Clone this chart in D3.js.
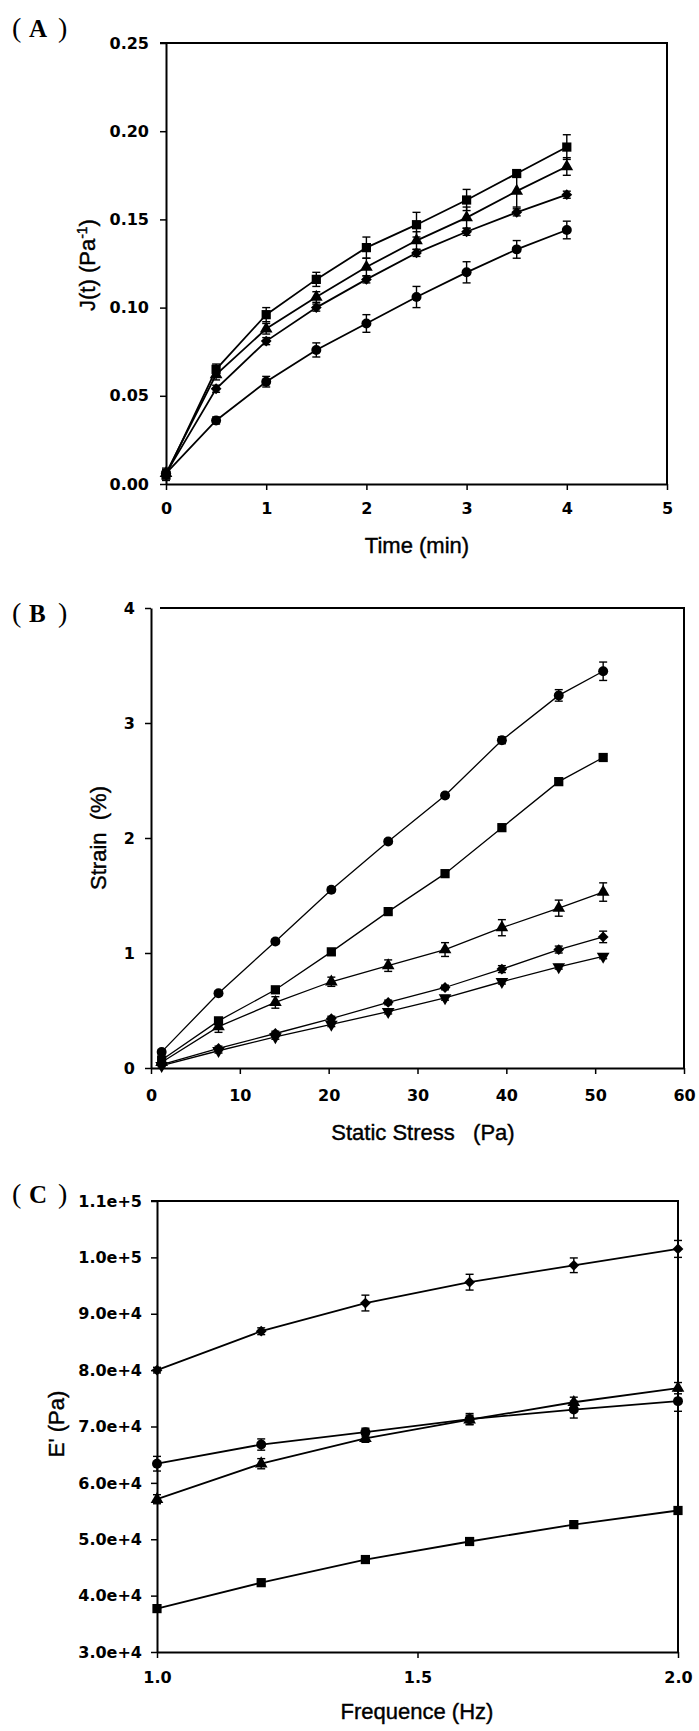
<!DOCTYPE html>
<html><head><meta charset="utf-8">
<script src="https://cdn.jsdelivr.net/npm/d3@7"></script>
<style>body{margin:0;background:#fff}svg{display:block}</style>
</head><body>
<svg id="chart" width="699" height="1731"></svg>
<script>
// ---------- Panel A data ----------
const timeA = [0, 0.5, 1, 1.5, 2, 2.5, 3, 3.5, 4];
const jSquare      = [0.005, 0.065, 0.096, 0.116, 0.134, 0.147, 0.161, 0.176, 0.191];
const jSquareErr   = [0.003, 0.003, 0.004, 0.004, 0.006, 0.007, 0.006, 0.002, 0.007];
const jTriangle    = [0.006, 0.062, 0.088, 0.106, 0.123, 0.138, 0.151, 0.166, 0.180];
const jTriangleErr = [0.003, 0.003, 0.003, 0.003, 0.005, 0.005, 0.006, 0.009, 0.005];
const jDiamond     = [0.006, 0.054, 0.081, 0.100, 0.116, 0.131, 0.143, 0.154, 0.164];
const jDiamondErr  = [0.002, 0.002, 0.002, 0.002, 0.002, 0.002, 0.002, 0.002, 0.002];
const jCircle      = [0.006, 0.036, 0.058, 0.076, 0.091, 0.106, 0.120, 0.133, 0.144];
const jCircleErr   = [0.002, 0.002, 0.003, 0.004, 0.005, 0.006, 0.006, 0.005, 0.005];
const xTicksA = [0, 1, 2, 3, 4, 5];
const yTicksA = [0, 0.05, 0.10, 0.15, 0.20, 0.25];

// ---------- Panel B data ----------
const stressB = [1.2, 7.6, 14.0, 20.3, 26.7, 33.1, 39.5, 45.9, 50.9];
const strainCircle      = [0.14, 0.65, 1.10, 1.55, 1.97, 2.37, 2.85, 3.24, 3.45];
const strainCircleErr   = [0.02, 0.02, 0.02, 0.02, 0.02, 0.02, 0.03, 0.05, 0.08];
const strainSquare      = [0.07, 0.41, 0.68, 1.01, 1.36, 1.69, 2.09, 2.49, 2.70];
const strainSquareErr   = [0.02, 0.02, 0.02, 0.02, 0.02, 0.02, 0.02, 0.03, 0.02];
const strainTriangle    = [0.05, 0.36, 0.57, 0.75, 0.89, 1.03, 1.22, 1.39, 1.53];
const strainTriangleErr = [0.02, 0.05, 0.05, 0.04, 0.05, 0.06, 0.07, 0.07, 0.08];
const strainDiamond     = [0.03, 0.17, 0.30, 0.43, 0.57, 0.70, 0.86, 1.03, 1.14];
const strainDiamondErr  = [0.01, 0.02, 0.02, 0.02, 0.02, 0.02, 0.03, 0.03, 0.05];
const strainInvTri      = [0.02, 0.15, 0.27, 0.38, 0.49, 0.61, 0.75, 0.88, 0.97];
const strainInvTriErr   = [0.01, 0.02, 0.02, 0.02, 0.02, 0.02, 0.02, 0.02, 0.02];
const xTicksB = [0, 10, 20, 30, 40, 50, 60];
const yTicksB = [0, 1, 2, 3, 4];

// ---------- Panel C data ----------
const freqC = [1.0, 1.2, 1.4, 1.6, 1.8, 2.0];
const eDiamond     = [80000, 86900, 91900, 95600, 98600, 101500];
const eDiamondErr  = [500, 600, 1400, 1400, 1300, 1500];
const eCircle      = [63400, 66800, 69000, 71300, 73000, 74500];
const eCircleErr   = [1300, 1000, 700, 1000, 1500, 1800];
const eTriangle    = [57100, 63400, 67900, 71200, 74300, 76800];
const eTriangleErr = [800, 900, 700, 800, 900, 1000];
const eSquare      = [37700, 42300, 46400, 49600, 52600, 55100];
const eSquareErr   = [500, 400, 400, 400, 400, 400];
const xTicksC = [1.0, 1.5, 2.0];
const yTicksC = [30000, 40000, 50000, 60000, 70000, 80000, 90000, 100000, 110000];

const svg = d3.select('#chart');
const TICK_FONT = '"DejaVu Sans", sans-serif';
const TITLE_FONT = '"Liberation Sans", Arial, sans-serif';

const SYM = {
  square:   {type: d3.symbolSquare,   size: 85, rot: 0},
  triangle: {type: d3.symbolTriangle, size: 70, rot: 0},
  invtri:   {type: d3.symbolTriangle, size: 70, rot: 180},
  diamond:  {type: d3.symbolSquare,   size: 58, rot: 45},
  circle:   {type: d3.symbolCircle,   size: 78, rot: 0}
};

function drawPanel(cfg) {
  const g = svg.append('g');
  const x = d3.scaleLinear().domain(cfg.xDomain).range([cfg.left, cfg.right]);
  const y = d3.scaleLinear().domain(cfg.yDomain).range([cfg.bottom, cfg.top]);

  // frame (top + right)
  g.append('path')
    .attr('d', `M${cfg.left + cfg.frameGap},${cfg.top}H${cfg.right}V${cfg.bottom}`)
    .attr('fill', 'none').attr('stroke', '#000').attr('stroke-width', 2);

  const xa = d3.axisBottom(x).tickValues(cfg.xTicks).tickFormat(cfg.xFmt)
    .tickSizeInner(6).tickSizeOuter(0).tickPadding(cfg.xPad);
  const ya = d3.axisLeft(y).tickValues(cfg.yTicks).tickFormat(cfg.yFmt)
    .tickSizeInner(6).tickSizeOuter(0).tickPadding(cfg.yPad);

  const gx = g.append('g').attr('transform', `translate(0,${cfg.bottom})`).call(xa);
  const gy = g.append('g').attr('transform', `translate(${cfg.left},0)`).call(ya);
  [gx, gy].forEach(a => {
    a.select('.domain').attr('stroke', '#000').attr('stroke-width', 2);
    a.selectAll('.tick line').attr('stroke', '#000').attr('stroke-width', 1.5);
    a.selectAll('.tick text').attr('fill', '#000')
      .style('font-family', TICK_FONT).style('font-weight', 'bold').style('font-size', '16px');
  });

  const line = d3.line().x(d => x(d[0])).y(d => y(d[1]));
  cfg.series.forEach(s => {
    const pts = cfg.xs.map((xv, i) => [xv, s.values[i], s.err[i]]);
    g.append('path').datum(pts).attr('d', line)
      .attr('fill', 'none').attr('stroke', '#000').attr('stroke-width', cfg.lw);
    // error bars
    const eb = g.append('g').attr('stroke', '#000').attr('stroke-width', 1.4);
    pts.forEach(p => {
      const px = x(p[0]), yt = y(p[1] + p[2]), yb = y(p[1] - p[2]);
      eb.append('line').attr('x1', px).attr('x2', px).attr('y1', yt).attr('y2', yb);
      eb.append('line').attr('x1', px - 4).attr('x2', px + 4).attr('y1', yt).attr('y2', yt);
      eb.append('line').attr('x1', px - 4).attr('x2', px + 4).attr('y1', yb).attr('y2', yb);
    });
    const sym = SYM[s.marker];
    g.append('g').selectAll('path').data(pts).join('path')
      .attr('d', d3.symbol(sym.type, sym.size))
      .attr('transform', d => `translate(${x(d[0])},${y(d[1])}) rotate(${sym.rot})`)
      .attr('fill', '#000');
  });

  // x title
  g.append('text').attr('x', cfg.xTitleX).attr('y', cfg.xTitleY)
    .attr('text-anchor', 'middle').style('font-family', TITLE_FONT).style('font-size', '22px')
    .attr('fill', '#000').attr('stroke', '#000').attr('stroke-width', 0.4)
    .attr('xml:space', 'preserve').text(cfg.xTitle);

  // y title
  const yt = g.append('text')
    .attr('transform', `translate(${cfg.yTitleX},${cfg.yTitleY}) rotate(-90)`)
    .attr('text-anchor', 'middle').style('font-family', TITLE_FONT).style('font-size', '22px')
    .attr('fill', '#000').attr('stroke', '#000').attr('stroke-width', 0.4)
    .attr('xml:space', 'preserve');
  cfg.yTitle.forEach(part => {
    const t = yt.append('tspan').text(part.t);
    if (part.sup) t.attr('dy', -8).style('font-size', '14px');
    if (part.after) t.attr('dy', 8);
  });

  // panel letter
  const lg = g.append('g').attr('fill', '#000').style('font-family', '"Liberation Serif", "Times New Roman", serif');
  lg.append('text').attr('x', 12).attr('y', cfg.letterY).style('font-size', '28px').text('(');
  lg.append('text').attr('x', 29).attr('y', cfg.letterY).style('font-size', '25px').style('font-weight', 'bold').text(cfg.letter);
  lg.append('text').attr('x', 58).attr('y', cfg.letterY).style('font-size', '28px').text(')');
}

drawPanel({
  left: 166, right: 667, top: 43, bottom: 484, frameGap: -6,
  xDomain: [0, 5], yDomain: [0, 0.25],
  xTicks: xTicksA, yTicks: yTicksA,
  xFmt: d3.format('d'), yFmt: d3.format('.2f'),
  xPad: 13, yPad: 11, lw: 1.8,
  xs: timeA,
  series: [
    {values: jSquare, err: jSquareErr, marker: 'square'},
    {values: jTriangle, err: jTriangleErr, marker: 'triangle'},
    {values: jDiamond, err: jDiamondErr, marker: 'diamond'},
    {values: jCircle, err: jCircleErr, marker: 'circle'}
  ],
  xTitle: 'Time (min)', xTitleX: 417, xTitleY: 553,
  yTitle: [{t: 'J(t) (Pa'}, {t: '-1', sup: true}, {t: ')', after: true}],
  yTitleX: 95, yTitleY: 265,
  letter: 'A', letterY: 37
});

drawPanel({
  left: 151, right: 684, top: 608, bottom: 1068, frameGap: 9,
  xDomain: [0, 60], yDomain: [0, 4],
  xTicks: xTicksB, yTicks: yTicksB,
  xFmt: d3.format('d'), yFmt: d3.format('d'),
  xPad: 16, yPad: 10, lw: 1.3,
  xs: stressB,
  series: [
    {values: strainCircle, err: strainCircleErr, marker: 'circle'},
    {values: strainSquare, err: strainSquareErr, marker: 'square'},
    {values: strainTriangle, err: strainTriangleErr, marker: 'triangle'},
    {values: strainDiamond, err: strainDiamondErr, marker: 'diamond'},
    {values: strainInvTri, err: strainInvTriErr, marker: 'invtri'}
  ],
  xTitle: 'Static Stress   (Pa)', xTitleX: 423, xTitleY: 1140,
  yTitle: [{t: 'Strain  (%)'}],
  yTitleX: 106, yTitleY: 838,
  letter: 'B', letterY: 622
});

drawPanel({
  left: 157, right: 678, top: 1201, bottom: 1652, frameGap: -6,
  xDomain: [1, 2], yDomain: [30000, 110000],
  xTicks: xTicksC, yTicks: yTicksC,
  xFmt: d3.format('.1f'), yFmt: d3.format('.1e'),
  xPad: 14, yPad: 9, lw: 1.8,
  xs: freqC,
  series: [
    {values: eDiamond, err: eDiamondErr, marker: 'diamond'},
    {values: eCircle, err: eCircleErr, marker: 'circle'},
    {values: eTriangle, err: eTriangleErr, marker: 'triangle'},
    {values: eSquare, err: eSquareErr, marker: 'square'}
  ],
  xTitle: 'Frequence (Hz)', xTitleX: 417, xTitleY: 1719,
  yTitle: [{t: "E' (Pa)"}],
  yTitleX: 64, yTitleY: 1424,
  letter: 'C', letterY: 1203
});
</script>
</body></html>
